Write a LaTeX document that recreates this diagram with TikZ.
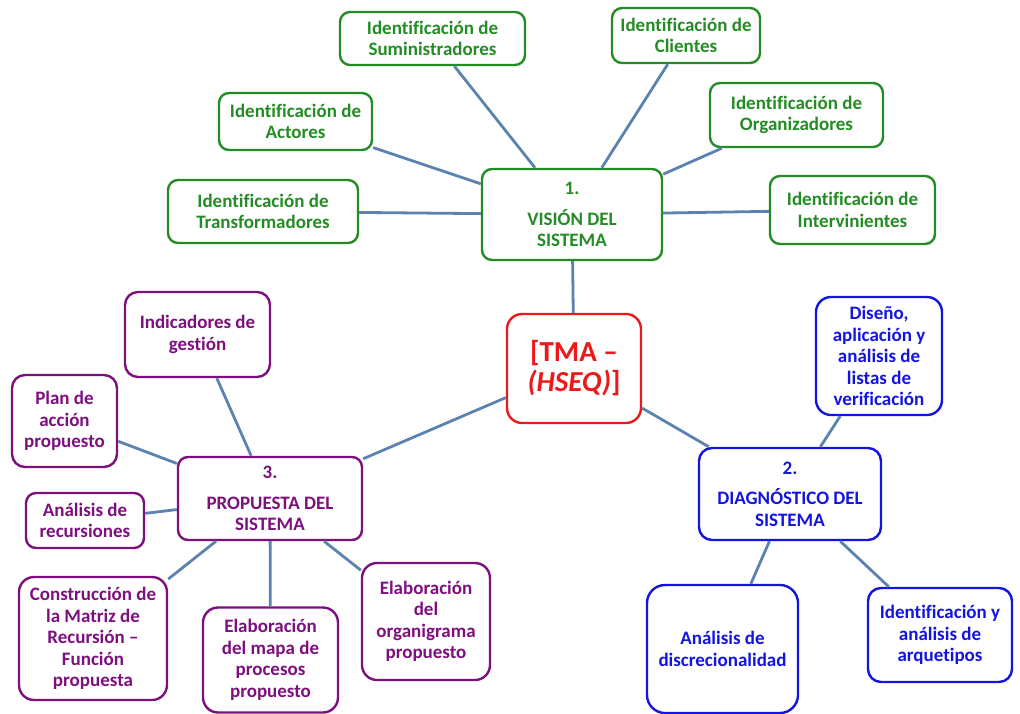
\documentclass[tikz,border=0pt]{standalone}
\usepackage{fontspec}
\setmainfont[Ligatures=NoCommon]{Carlito}
\definecolor{cgreen}{RGB}{36,140,36}
\definecolor{cpurple}{RGB}{125,16,125}
\definecolor{cblue}{RGB}{20,20,225}
\definecolor{cred}{RGB}{235,25,25}
\definecolor{cline}{RGB}{92,130,175}
\tikzset{
  box/.style={draw, line width=2.4pt, rounded corners=10pt, fill=white, align=center,
    font=\fontsize{19}{21.5}\selectfont\bfseries, inner sep=0pt},
  gbox/.style={box, draw=cgreen, text=cgreen},
  pbox/.style={box, draw=cpurple, text=cpurple},
  bbox/.style={box, draw=cblue, text=cblue},
  rbox/.style={box, draw=cred, text=cred, rounded corners=15pt,
    font=\fontsize{29}{30}\selectfont\bfseries},
  conn/.style={draw=cline, line width=2.8pt},
}
\begin{document}
\begin{tikzpicture}[x=1pt,y={(0pt,-1pt)}]
\useasboundingbox (0,0) rectangle (1020,713);
% central
\node[rbox, minimum width=134pt, minimum height=109pt] (tma) at (574,368.5) {[TMA –\\\textit{(HSEQ)}]};
% vision
\node[gbox, minimum width=180pt, minimum height=91pt] (vis) at (572,214.5) {1.\\[9pt]VISIÓN DEL\\SISTEMA};
\node[gbox, minimum width=185pt, minimum height=53pt] (sum) at (432.5,38.5) {Identificación de\\Suministradores};
\node[gbox, minimum width=148pt, minimum height=55pt] (cli) at (686,35.5) {Identificación de\\Clientes};
\node[gbox, minimum width=153pt, minimum height=57pt] (act) at (295.5,121.5) {Identificación de\\Actores};
\node[gbox, minimum width=173pt, minimum height=64pt] (org) at (796.5,115) {Identificación de\\Organizadores};
\node[gbox, minimum width=190pt, minimum height=63pt] (tra) at (263,211.5) {Identificación de\\Transformadores};
\node[gbox, minimum width=165pt, minimum height=68pt] (int) at (852.5,210) {Identificación de\\Intervinientes};
% propuesta
\node[pbox, minimum width=184pt, minimum height=83pt] (prop) at (270,498.5) {3.\\[9pt]PROPUESTA DEL\\SISTEMA};
\node[pbox, minimum width=145pt, minimum height=85pt, rounded corners=13pt] (ind) at (197.5,334.5) {Indicadores de\\gestión};
\node[pbox, minimum width=105pt, minimum height=92pt, rounded corners=13pt] (plan) at (64.5,421) {Plan de\\acción\\propuesto};
\node[pbox, minimum width=118pt, minimum height=55pt] (rec) at (85,520.5) {Análisis de\\recursiones};
\node[pbox, minimum width=148pt, minimum height=123pt, rounded corners=15pt] (con) at (93,638.5) {Construcción de\\la Matriz de\\Recursión –\\Función\\propuesta};
\node[pbox, minimum width=135pt, minimum height=105pt, rounded corners=15pt] (mapa) at (270.5,660) {Elaboración\\del mapa de\\procesos\\propuesto};
\node[pbox, minimum width=128pt, minimum height=117pt, rounded corners=15pt] (orga) at (426,621.5) {Elaboración\\del\\organigrama\\propuesto};
% diagnostico
\node[bbox, minimum width=182pt, minimum height=92pt, rounded corners=13pt] (diag) at (790,494) {2.\\[9pt]DIAGNÓSTICO DEL\\SISTEMA};
\node[bbox, minimum width=126pt, minimum height=118pt, rounded corners=15pt] (dis) at (879,356) {Diseño,\\aplicación y\\análisis de\\listas de\\verificación};
\node[bbox, minimum width=151pt, minimum height=128pt, rounded corners=18pt] (disc) at (722.5,649) {Análisis de\\discrecionalidad};
\node[bbox, minimum width=144pt, minimum height=94pt, rounded corners=13pt] (arq) at (940,635) {Identificación y\\análisis de\\arquetipos};
% connectors
\path[conn] (sum) -- (vis);
\path[conn] (cli) -- (vis);
\path[conn] (act) -- (vis);
\path[conn] (org) -- (vis);
\path[conn] (tra) -- (vis);
\path[conn] (int) -- (vis);
\path[conn] (vis) -- (tma);
\path[conn] (tma) -- (prop);
\path[conn] (tma) -- (diag);
\path[conn] (ind) -- (prop);
\path[conn] (plan) -- (prop);
\path[conn] (rec) -- (prop);
\path[conn] (con) -- (prop);
\path[conn] (mapa) -- (prop);
\path[conn] (orga) -- (prop);
\path[conn] (dis) -- (diag);
\path[conn] (diag) -- (disc);
\path[conn] (diag) -- (arq);
\end{tikzpicture}
\end{document}
